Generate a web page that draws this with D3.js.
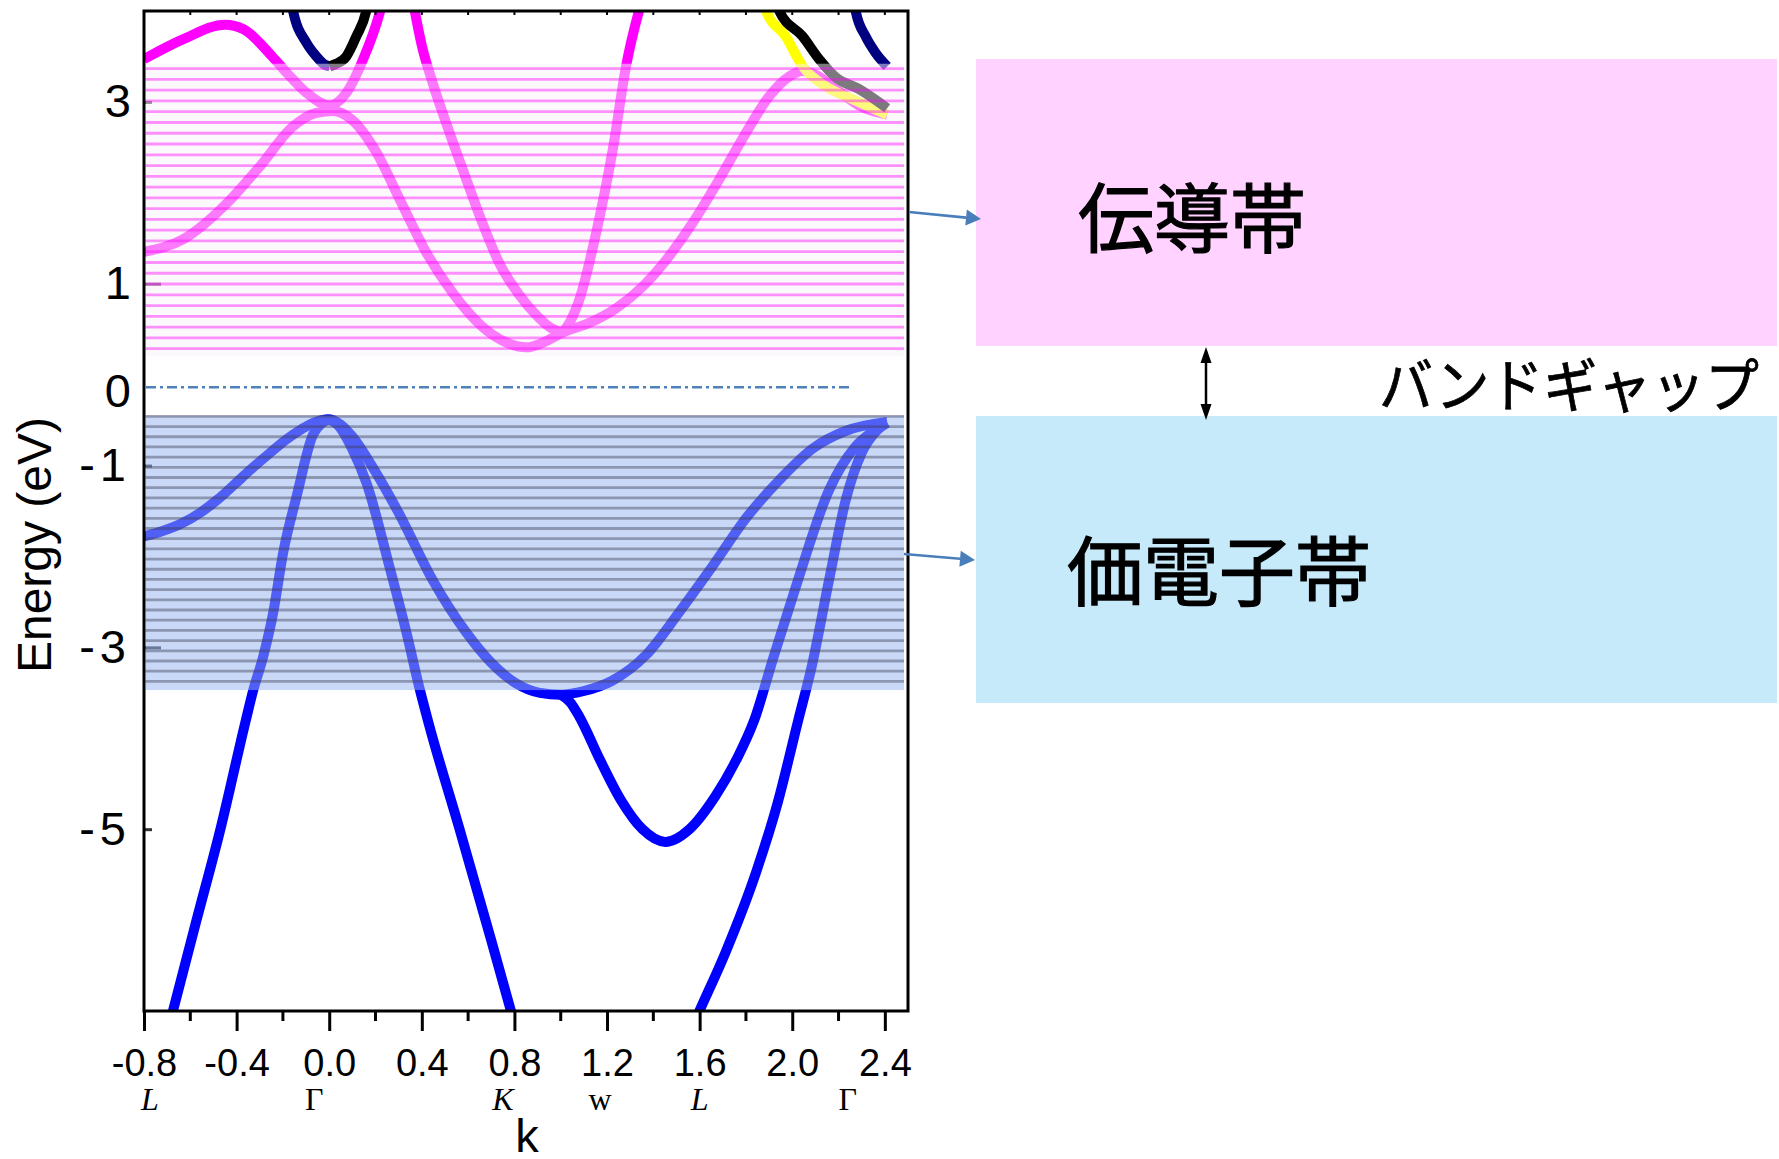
<!DOCTYPE html>
<html>
<head>
<meta charset="utf-8">
<script src="https://cdn.jsdelivr.net/npm/d3@7"></script>
<style>
  body { margin: 0; background: #fff; }
  svg { display: block; }
</style>
</head>
<body>
<script>
// band structure as [k, E (eV)]
const valenceA = [[-0.8,-1.78],[-0.72,-1.72],[-0.64,-1.64],[-0.558,-1.52],[-0.48,-1.37],[-0.41,-1.21],[-0.342,-1.05],
  [-0.26,-0.87],[-0.184,-0.71],[-0.12,-0.60],[-0.069,-0.53],[0,-0.49],
  [0.05,-0.55],[0.10,-0.68],[0.20,-1.07],[0.30,-1.52],[0.447,-2.26],[0.593,-2.84],[0.70,-3.17],[0.81,-3.40],[0.91,-3.50],[1.0,-3.52],
  [1.10,-3.48],[1.22,-3.37],[1.37,-3.08],[1.51,-2.62],[1.655,-2.11],[1.80,-1.58],[1.944,-1.16],[2.09,-0.81],[2.23,-0.62],[2.41,-0.52]];
const valenceB = [[-0.716,-7.4],[-0.675,-7.0],[-0.573,-6.0],[-0.47,-5.0],[-0.36,-3.8],[-0.328,-3.47],[-0.285,-3.10],
  [-0.242,-2.62],[-0.199,-1.96],[-0.141,-1.34],[-0.07,-0.66],[-0.03,-0.53],[0,-0.49]];
const valenceC = [[0,-0.49],[0.04,-0.56],[0.10,-0.82],[0.162,-1.20],[0.26,-2.11],[0.334,-2.84],[0.39,-3.45],
  [0.43,-3.84],[0.563,-5.0],[0.675,-6.0],[0.785,-7.0],[0.827,-7.4]];
const valenceD = [[1.0,-3.52],[1.04,-3.60],[1.08,-3.76],[1.17,-4.24],[1.26,-4.68],[1.353,-5.0],[1.452,-5.14],[1.556,-5.0],
  [1.667,-4.64],[1.758,-4.24],[1.836,-3.8],[1.92,-3.10],[2.016,-2.33],[2.159,-1.27],[2.27,-0.80],[2.35,-0.62],[2.41,-0.53]];
const valenceE = [[1.53,-7.4],[1.599,-7.0],[1.711,-6.36],[1.847,-5.45],[1.937,-4.71],[2.026,-3.8],[2.085,-3.2],
  [2.159,-2.26],[2.231,-1.38],[2.30,-0.86],[2.36,-0.63],[2.41,-0.53]];

const condP1 = [[-0.8,3.47],[-0.63,3.69],[-0.45,3.85],[-0.37,3.80],[-0.243,3.49],[-0.183,3.32],[-0.098,3.10],[0,2.96],
  [0.074,3.10],[0.145,3.46],[0.218,3.98],[0.24,4.2]];
const condP2 = [[-0.8,1.35],[-0.63,1.49],[-0.44,1.89],[-0.30,2.29],[-0.157,2.73],[-0.055,2.88],[0.015,2.90],[0.10,2.80],
  [0.205,2.44],[0.304,1.93],[0.42,1.34],[0.533,0.90],[0.66,0.53],[0.76,0.36],[0.852,0.30],[0.93,0.36],[1.007,0.46],
  [1.124,0.57],[1.239,0.73],[1.354,0.97],[1.455,1.26],[1.57,1.67],[1.685,2.15],[1.80,2.66],[1.90,3.06],[1.987,3.28],
  [2.044,3.34],[2.10,3.30],[2.20,3.12],[2.289,2.96],[2.41,2.86]];
const condP3a = [[0.355,4.2],[0.40,3.62],[0.448,3.2],[0.52,2.66],[0.592,2.15],[0.66,1.68],[0.736,1.22],[0.82,0.88],
  [0.90,0.64],[0.96,0.51],[1.007,0.46]];
const condP3b = [[1.007,0.46],[1.04,0.58],[1.081,0.83],[1.153,1.56],[1.225,2.48],[1.282,3.39],[1.36,4.2]];
const navyLeft = [[-0.17,4.2],[-0.156,4.0],[-0.098,3.65],[-0.055,3.50],[-0.02,3.41],[0.002,3.39]];
const blackLeft = [[0.002,3.39],[0.03,3.42],[0.074,3.50],[0.117,3.72],[0.16,4.0],[0.175,4.2]];
const yellowRight = [[1.875,4.2],[1.887,4.0],[1.972,3.72],[2.045,3.39],[2.145,3.17],[2.26,3.03],[2.41,2.86]];
const blackRight = [[1.93,4.2],[1.944,4.0],[2.045,3.72],[2.116,3.47],[2.188,3.27],[2.289,3.14],[2.41,2.93]];
const navyRight = [[2.265,4.2],[2.274,4.0],[2.317,3.72],[2.36,3.54],[2.41,3.39]];

const curves = [
  { pts: valenceA, color: "#0000ff" }, { pts: valenceB, color: "#0000ff" }, { pts: valenceC, color: "#0000ff" },
  { pts: valenceD, color: "#0000ff" }, { pts: valenceE, color: "#0000ff" },
  { pts: condP2, color: "#ff00ff" }, { pts: condP3a, color: "#ff00ff" }, { pts: condP3b, color: "#ff00ff" },
  { pts: condP1, color: "#ff00ff" },
  { pts: navyLeft, color: "#000080" }, { pts: blackLeft, color: "#000000" },
  { pts: yellowRight, color: "#ffff00" }, { pts: blackRight, color: "#000000" }, { pts: navyRight, color: "#000080" }
];

// shaded bands [top E, bottom E], hatch lines [first E, last E, count]
const condBand = [3.42, 0.20];
const condHatch = [3.366, 0.286, 27];
const valBand = [-0.45, -3.47];
const valHatch = [-0.459, -3.374, 27];
const fermiE = -0.14;
const fermiEndK = 2.26;

const kMajor = [-0.8, -0.4, 0.0, 0.4, 0.8, 1.2, 1.6, 2.0, 2.4];
const kMinor = [-0.6, -0.2, 0.2, 0.6, 1.0, 1.4, 1.8, 2.2];
const eTicks = [3, 1, -1, -3, -5];
const eLongTicks = [1, -3];
const symNames = ["L", "Γ", "K", "w", "L", "Γ"];
const symK = [-0.775, -0.065, 0.75, 1.17, 1.60, 2.24];
const symItalic = [true, false, true, false, true, false];

const W = 1779, H = 1159;
const svg = d3.select("body").append("svg").attr("width", W).attr("height", H);
svg.append("rect").attr("width", W).attr("height", H).attr("fill", "#fff");

const x = d3.scaleLinear().domain([-0.8, 2.5]).range([144, 908]);
const y = d3.scaleLinear().domain([-7, 4]).range([1011, 11]);

svg.append("clipPath").attr("id", "plot")
  .append("rect").attr("x", x(-0.8)).attr("y", y(4))
  .attr("width", x(2.5) - x(-0.8)).attr("height", y(-7) - y(4));

const line = d3.line().x(d => x(d[0])).y(d => y(d[1])).curve(d3.curveMonotoneX);

const g = svg.append("g").attr("clip-path", "url(#plot)");
curves.forEach(c => {
  g.append("path").attr("d", line(c.pts.slice().sort((a, b) => a[0] - b[0]))).attr("fill", "none")
    .attr("stroke", c.color).attr("stroke-width", 10);
});

const sans = "Liberation Sans, Arial, sans-serif";

// y axis ticks go under the shading
const yAxis = svg.append("g").attr("transform", `translate(${x(-0.8)},0)`)
  .call(d3.axisLeft(y).tickValues(eTicks).tickSize(-8).tickPadding(13).tickFormat(d => String(d)));
yAxis.select(".domain").remove();
yAxis.selectAll(".tick line").attr("x2", d => eLongTicks.includes(d) ? 17 : 8)
  .attr("stroke", "#333").attr("stroke-width", 3);
yAxis.selectAll(".tick text").attr("font-family", sans).attr("font-size", 47)
  .attr("letter-spacing", d => d < 0 ? 5 : 0).attr("fill", "#000");

// shading over the curves
const bandX0 = x(-0.8) + 1.5, bandX1 = 904;
svg.append("rect").attr("x", bandX0).attr("width", bandX1 - bandX0)
  .attr("y", y(condBand[0])).attr("height", y(condBand[1]) - y(condBand[0]))
  .attr("fill", "rgb(250,244,250)").attr("fill-opacity", 0.5);
svg.append("rect").attr("x", bandX0).attr("width", bandX1 - bandX0)
  .attr("y", y(valBand[0])).attr("height", y(valBand[1]) - y(valBand[0]))
  .attr("fill", "rgb(151,181,238)").attr("fill-opacity", 0.53);

const hatch = (spec, color, op) => {
  const step = (spec[0] - spec[1]) / (spec[2] - 1);
  svg.selectAll(null).data(d3.range(spec[2]).map(i => spec[0] - i * step)).enter()
    .append("line").attr("x1", bandX0).attr("x2", bandX1)
    .attr("y1", d => y(d)).attr("y2", d => y(d))
    .attr("stroke", color).attr("stroke-opacity", op).attr("stroke-width", 2.8);
};
hatch(condHatch, "#ff00ff", 0.42);
hatch(valHatch, "rgb(60,60,80)", 0.42);

// Fermi level
svg.append("line").attr("x1", x(-0.8) + 2).attr("x2", x(fermiEndK))
  .attr("y1", y(fermiE)).attr("y2", y(fermiE))
  .attr("stroke", "#4f81bd").attr("stroke-width", 2.5).attr("stroke-dasharray", "10,4,3,4");

// frame
svg.append("rect").attr("x", x(-0.8)).attr("y", y(4))
  .attr("width", x(2.5) - x(-0.8)).attr("height", y(-7) - y(4))
  .attr("fill", "none").attr("stroke", "#000").attr("stroke-width", 3);

// top minor ticks
svg.selectAll(null).data(kMajor.concat(kMinor)).enter().append("line")
  .attr("x1", d => x(d)).attr("x2", d => x(d)).attr("y1", y(4)).attr("y2", y(4) + 4)
  .attr("stroke", "#000").attr("stroke-width", 2);

// bottom axis
const xAxis = svg.append("g").attr("transform", `translate(0,${y(-7)})`)
  .call(d3.axisBottom(x).tickValues(kMajor).tickSize(20).tickSizeOuter(0).tickPadding(18)
    .tickFormat(d => d.toFixed(1)));
xAxis.select(".domain").remove();
xAxis.selectAll(".tick line").attr("stroke", "#000").attr("stroke-width", 3);
xAxis.selectAll(".tick text").attr("font-family", sans).attr("font-size", 38).attr("fill", "#000");
svg.selectAll(null).data(kMinor).enter().append("line")
  .attr("x1", d => x(d)).attr("x2", d => x(d)).attr("y1", y(-7)).attr("y2", y(-7) + 10)
  .attr("stroke", "#000").attr("stroke-width", 3);

// "0" label next to the Fermi line
svg.append("text").attr("x", 131).attr("y", y(fermiE) + 7).attr("text-anchor", "end")
  .attr("dominant-baseline", "middle").attr("font-family", sans)
  .attr("font-size", 47).text("0");

// symmetry points
svg.selectAll(null).data(symNames).enter().append("text")
  .attr("x", (d, i) => x(symK[i])).attr("y", 1110).attr("text-anchor", "middle")
  .attr("font-family", "Liberation Serif, DejaVu Serif, serif").attr("font-size", 32)
  .attr("font-style", (d, i) => symItalic[i] ? "italic" : "normal").text(d => d);

svg.append("text").attr("x", 527).attr("y", 1152).attr("text-anchor", "middle")
  .attr("font-family", sans).attr("font-size", 47).text("k");

svg.append("text").attr("transform", "translate(51,545) rotate(-90)").attr("text-anchor", "middle")
  .attr("font-family", sans).attr("font-size", 48).text("Energy (eV)");

// right-hand legend boxes
svg.append("rect").attr("x", 976).attr("y", 59).attr("width", 801).attr("height", 287).attr("fill", "#ffd2ff");
svg.append("rect").attr("x", 976).attr("y", 416).attr("width", 801).attr("height", 287).attr("fill", "#c6eaf9");

const jp = "Noto Sans CJK JP, sans-serif";
svg.append("text").attr("x", 1078).attr("y", 214).attr("dominant-baseline", "central")
  .attr("font-family", jp).attr("font-size", 76).attr("stroke", "#000").attr("stroke-width", 1.2)
  .text("伝導帯");
svg.append("text").attr("x", 1067).attr("y", 567).attr("dominant-baseline", "central")
  .attr("font-family", jp).attr("font-size", 76).attr("stroke", "#000").attr("stroke-width", 1.2)
  .text("価電子帯");
svg.append("text").attr("x", 1379).attr("y", 382).attr("dominant-baseline", "central")
  .attr("font-family", jp).attr("font-size", 58).attr("stroke", "#000").attr("stroke-width", 0.8)
  .attr("textLength", 380).attr("lengthAdjust", "spacingAndGlyphs").text("バンドギャップ");

// double arrow for the gap
svg.append("line").attr("x1", 1206).attr("x2", 1206).attr("y1", 358).attr("y2", 408)
  .attr("stroke", "#000").attr("stroke-width", 2.5);
svg.append("path").attr("d", "M1206,347 L1200.5,363 L1211.5,363 Z").attr("fill", "#000");
svg.append("path").attr("d", "M1206,420 L1200.5,404 L1211.5,404 Z").attr("fill", "#000");

// pointer arrows
const pointer = (x1, y1, x2, y2) => {
  const a = Math.atan2(y2 - y1, x2 - x1), L = 15, w = 8;
  const bx = x2 - L * Math.cos(a), by = y2 - L * Math.sin(a);
  svg.append("line").attr("x1", x1).attr("y1", y1).attr("x2", bx).attr("y2", by)
    .attr("stroke", "#4a7ebb").attr("stroke-width", 2.7);
  svg.append("path").attr("fill", "#4a7ebb").attr("d",
    `M${x2},${y2} L${bx + w * Math.sin(a)},${by - w * Math.cos(a)} L${bx - w * Math.sin(a)},${by + w * Math.cos(a)} Z`);
};
pointer(909, 212, 981, 219);
pointer(904, 554, 975, 560);
</script>
</body>
</html>
